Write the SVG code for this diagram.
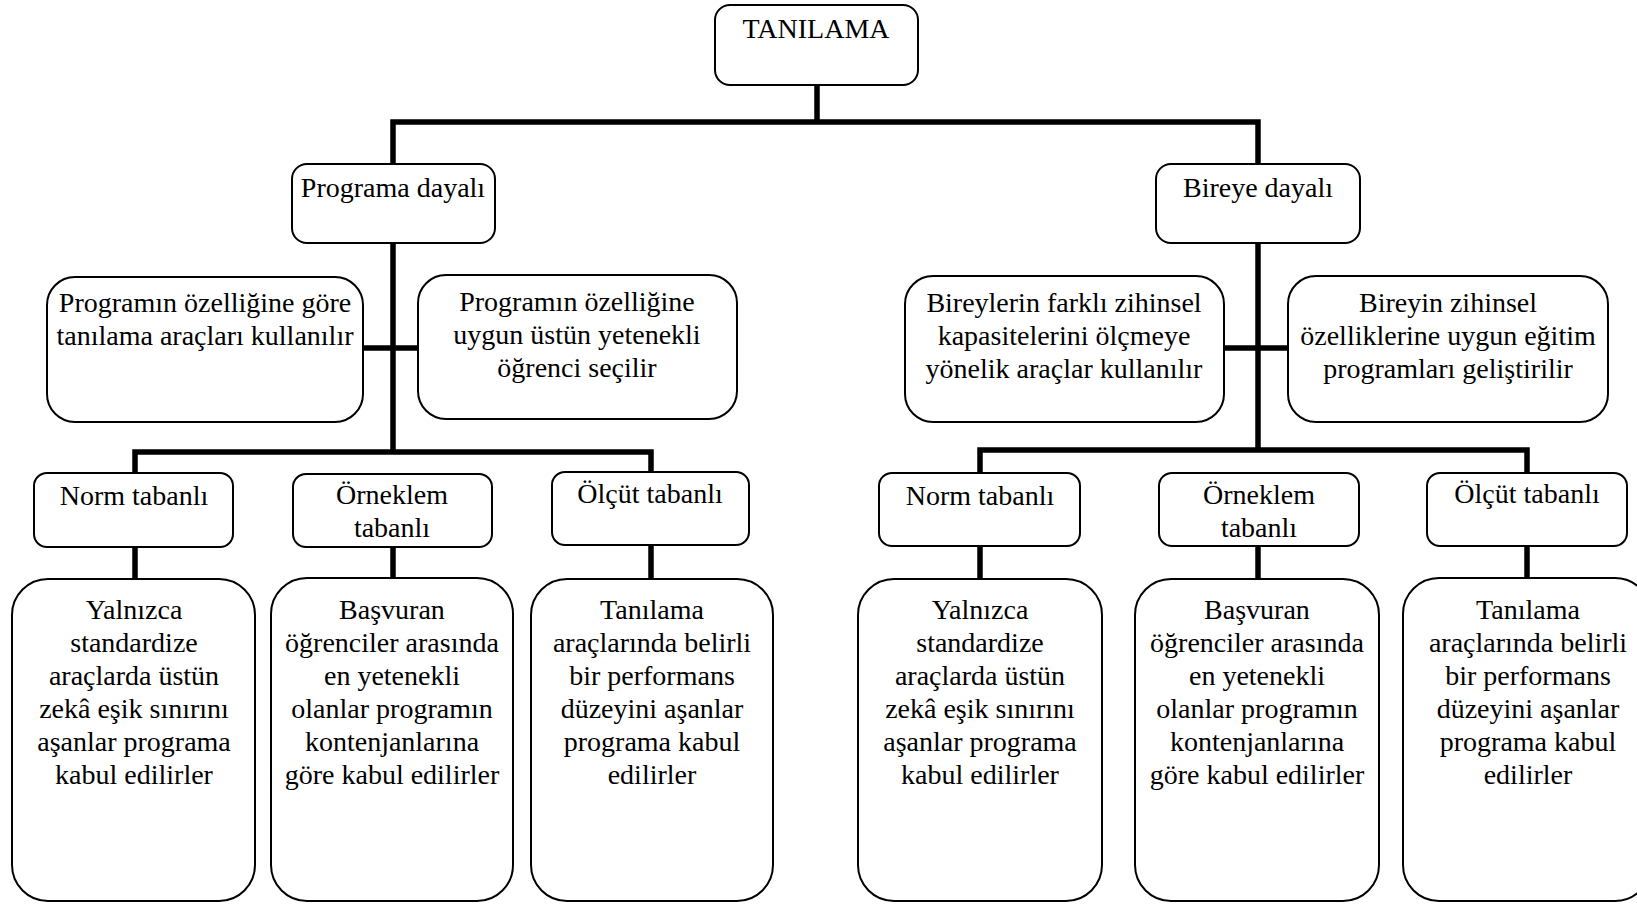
<svg xmlns="http://www.w3.org/2000/svg" width="1637" height="904" viewBox="0 0 1637 904">
<style>
.b{fill:#fff;stroke:#000;stroke-width:2}
.t{font-family:"Liberation Serif","Times New Roman",serif;font-size:28px;fill:#000;text-anchor:middle}
.c{fill:none;stroke:#000;stroke-width:5.5;stroke-linecap:square}
</style>
<rect width="1637" height="904" fill="#fff"/>
<g id="connectors">
<path class="c" d="M817 86V122M393 122H1258M393 122V164M1258 122V164"/>
<path class="c" d="M393 244V452M363 348H418M135 452H651M135 452V473M651 452V472M135 548V579M393 548V578M651 546V579"/>
<path class="c" d="M1258 244V450M1224 348H1288M980 450H1527M980 450V473M1527 450V473M980 547V579M1258 547V579M1527 547V578"/>
</g>
<g id="n-tanilama"><rect class="b" x="715" y="5" width="203" height="80" rx="15"/><text class="t" x="816" y="38">TANILAMA</text></g>
<g id="n-programa"><rect class="b" x="292" y="164" width="203" height="79" rx="15"/><text class="t" x="393" y="197">Programa dayalı</text></g>
<g id="n-bireye"><rect class="b" x="1156" y="164" width="204" height="79" rx="15"/><text class="t" x="1258" y="197">Bireye dayalı</text></g>
<g id="n-p1"><rect class="b" x="47" y="277" width="316" height="145" rx="28"/><text class="t" y="312"><tspan x="205">Programın özelliğine göre</tspan><tspan x="205" dy="33">tanılama araçları kullanılır</tspan></text></g>
<g id="n-p2"><rect class="b" x="418" y="275" width="319" height="144" rx="28"/><text class="t" y="311"><tspan x="577">Programın özelliğine</tspan><tspan x="577" dy="33">uygun üstün yetenekli</tspan><tspan x="577" dy="33">öğrenci seçilir</tspan></text></g>
<g id="n-b1"><rect class="b" x="905" y="276" width="319" height="146" rx="28"/><text class="t" y="312"><tspan x="1064">Bireylerin farklı zihinsel</tspan><tspan x="1064" dy="33">kapasitelerini ölçmeye</tspan><tspan x="1064" dy="33">yönelik araçlar kullanılır</tspan></text></g>
<g id="n-b2"><rect class="b" x="1288" y="276" width="320" height="146" rx="28"/><text class="t" y="312"><tspan x="1448">Bireyin zihinsel</tspan><tspan x="1448" dy="33">özelliklerine uygun eğitim</tspan><tspan x="1448" dy="33">programları geliştirilir</tspan></text></g>
<g id="n-lnorm"><rect class="b" x="34" y="473" width="199" height="74" rx="13"/><text class="t" x="134" y="505">Norm tabanlı</text></g>
<g id="n-lorn"><rect class="b" x="293" y="474" width="199" height="73" rx="13"/><text class="t" y="504"><tspan x="392">Örneklem</tspan><tspan x="392" dy="33">tabanlı</tspan></text></g>
<g id="n-lolc"><rect class="b" x="552" y="472" width="197" height="73" rx="13"/><text class="t" x="650" y="503">Ölçüt tabanlı</text></g>
<g id="n-rnorm"><rect class="b" x="879" y="473" width="201" height="73" rx="13"/><text class="t" x="980" y="505">Norm tabanlı</text></g>
<g id="n-rorn"><rect class="b" x="1159" y="473" width="200" height="73" rx="13"/><text class="t" y="504"><tspan x="1259">Örneklem</tspan><tspan x="1259" dy="33">tabanlı</tspan></text></g>
<g id="n-rolc"><rect class="b" x="1427" y="473" width="200" height="73" rx="13"/><text class="t" x="1527" y="503">Ölçüt tabanlı</text></g>
<g id="n-l1"><rect class="b" x="12" y="579" width="243" height="322" rx="36"/><text class="t" y="619"><tspan x="134">Yalnızca</tspan><tspan x="134" dy="33">standardize</tspan><tspan x="134" dy="33">araçlarda üstün</tspan><tspan x="134" dy="33">zekâ eşik sınırını</tspan><tspan x="134" dy="33">aşanlar programa</tspan><tspan x="134" dy="33">kabul edilirler</tspan></text></g>
<g id="n-l2"><rect class="b" x="271" y="578" width="242" height="323" rx="36"/><text class="t" y="619"><tspan x="392">Başvuran</tspan><tspan x="392" dy="33">öğrenciler arasında</tspan><tspan x="392" dy="33">en yetenekli</tspan><tspan x="392" dy="33">olanlar programın</tspan><tspan x="392" dy="33">kontenjanlarına</tspan><tspan x="392" dy="33">göre kabul edilirler</tspan></text></g>
<g id="n-l3"><rect class="b" x="531" y="579" width="242" height="322" rx="36"/><text class="t" y="619"><tspan x="652">Tanılama</tspan><tspan x="652" dy="33">araçlarında belirli</tspan><tspan x="652" dy="33">bir performans</tspan><tspan x="652" dy="33">düzeyini aşanlar</tspan><tspan x="652" dy="33">programa kabul</tspan><tspan x="652" dy="33">edilirler</tspan></text></g>
<g id="n-r1"><rect class="b" x="858" y="579" width="244" height="322" rx="36"/><text class="t" y="619"><tspan x="980">Yalnızca</tspan><tspan x="980" dy="33">standardize</tspan><tspan x="980" dy="33">araçlarda üstün</tspan><tspan x="980" dy="33">zekâ eşik sınırını</tspan><tspan x="980" dy="33">aşanlar programa</tspan><tspan x="980" dy="33">kabul edilirler</tspan></text></g>
<g id="n-r2"><rect class="b" x="1135" y="579" width="244" height="322" rx="36"/><text class="t" y="619"><tspan x="1257">Başvuran</tspan><tspan x="1257" dy="33">öğrenciler arasında</tspan><tspan x="1257" dy="33">en yetenekli</tspan><tspan x="1257" dy="33">olanlar programın</tspan><tspan x="1257" dy="33">kontenjanlarına</tspan><tspan x="1257" dy="33">göre kabul edilirler</tspan></text></g>
<g id="n-r3"><rect class="b" x="1403" y="578" width="248" height="323" rx="36"/><text class="t" y="619"><tspan x="1528">Tanılama</tspan><tspan x="1528" dy="33">araçlarında belirli</tspan><tspan x="1528" dy="33">bir performans</tspan><tspan x="1528" dy="33">düzeyini aşanlar</tspan><tspan x="1528" dy="33">programa kabul</tspan><tspan x="1528" dy="33">edilirler</tspan></text></g>
</svg>
